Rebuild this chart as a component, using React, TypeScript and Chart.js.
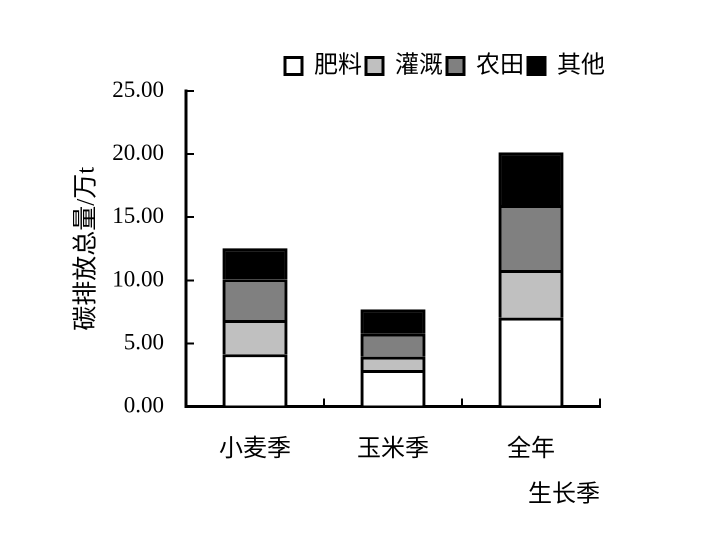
import React, { useEffect, useRef } from "react";
import { Chart, registerables } from "chart.js";

Chart.register(...registerables);

const categories = ["小麦季", "玉米季", "全年"];
const seriesNames = ["肥料", "灌溉", "农田", "其他"];
const fertilizer = [4.14, 2.89, 7.04];
const irrigation = [2.71, 1.06, 3.78];
const farmland = [3.23, 1.82, 5.15];
const other = [2.46, 1.93, 4.17];
const seriesColors = ["#FFFFFF", "#C0C0C0", "#808080", "#000000"];
const yTitle = "碳排放总量/万t";
const xTitle = "生长季";

const FONT = "'Liberation Serif', 'Noto Sans CJK SC', serif";

export default function App() {
  const ref = useRef<HTMLCanvasElement | null>(null);
  useEffect(() => {
    if (!ref.current) return;
    const values = [fertilizer, irrigation, farmland, other];
    Chart.defaults.font.family = FONT;
    Chart.defaults.color = "#000";
    const chart = new Chart(ref.current, {
      type: "bar",
      data: {
        labels: categories,
        datasets: values.map((v, i) => ({
          label: seriesNames[i],
          data: v,
          backgroundColor: seriesColors[i],
          borderColor: "#000",
          borderWidth: 3,
          borderSkipped: "start",
          inflateAmount: 0,
          barPercentage: 0.47,
          categoryPercentage: 1,
          yAxisID: "y",
        })),
      },
      options: {
        animation: false,
        responsive: false,
        devicePixelRatio: 2,
        layout: { padding: { left: 0, right: 100, top: 50, bottom: 0 } },
        plugins: {
          legend: {
            display: true,
            position: "top",
            align: "end",
            labels: {
              boxWidth: 17,
              boxHeight: 17,
              padding: 4,
              color: "#000",
              font: { size: 24, family: FONT },
            },
          },
          title: {
            display: true,
            text: "",
            weight: 500,
            font: { size: 1 },
            padding: { top: 1.8, bottom: 0 },
          } as any,
          tooltip: { enabled: false },
        },
        scales: {
          x: {
            stacked: true,
            offset: true,
            grid: {
              display: true,
              offset: true,
              drawOnChartArea: false,
              drawTicks: true,
              tickLength: -8,
              color: "#000",
              lineWidth: 2,
            },
            border: { display: true, color: "#000", width: 3 },
            ticks: { padding: 37, color: "#000", font: { size: 24, family: FONT } },
            title: {
              display: true,
              text: xTitle,
              align: "end",
              color: "#000",
              font: { size: 24, family: FONT },
              padding: { top: 0, bottom: 25.6 },
            },
            afterFit: (s: any) => {
              s.height = 128.5;
            },
          },
          y: {
            stacked: true,
            min: 0,
            max: 25,
            grid: {
              display: true,
              drawOnChartArea: false,
              drawTicks: true,
              tickLength: -8,
              color: "#000",
              lineWidth: 2,
            },
            border: { display: true, color: "#000", width: 3 },
            ticks: {
              stepSize: 5,
              padding: 30,
              color: "#000",
              font: { size: 23, family: FONT },
              callback: (v: any) => Number(v).toFixed(2),
            },
            title: {
              display: true,
              text: yTitle,
              color: "#000",
              font: { size: 25, family: FONT },
              padding: { top: 72, bottom: 0 },
            },
            afterFit: (s: any) => {
              s.width = 186;
            },
          },
          y2: {
            type: "linear",
            position: "right",
            display: true,
            grid: { display: false, drawTicks: false },
            border: { display: false },
            ticks: { display: false },
            afterFit: (s: any) => {
              s.width = 9;
            },
          },
        },
      } as any,
    });
    return () => chart.destroy();
  }, []);
  return (
    <div style={{ position: "absolute", left: 0, top: 0, width: 709, height: 535, background: "#fff" }}>
      <canvas ref={ref} width={709} height={535} style={{ display: "block", width: 709, height: 535 }} />
    </div>
  );
}
